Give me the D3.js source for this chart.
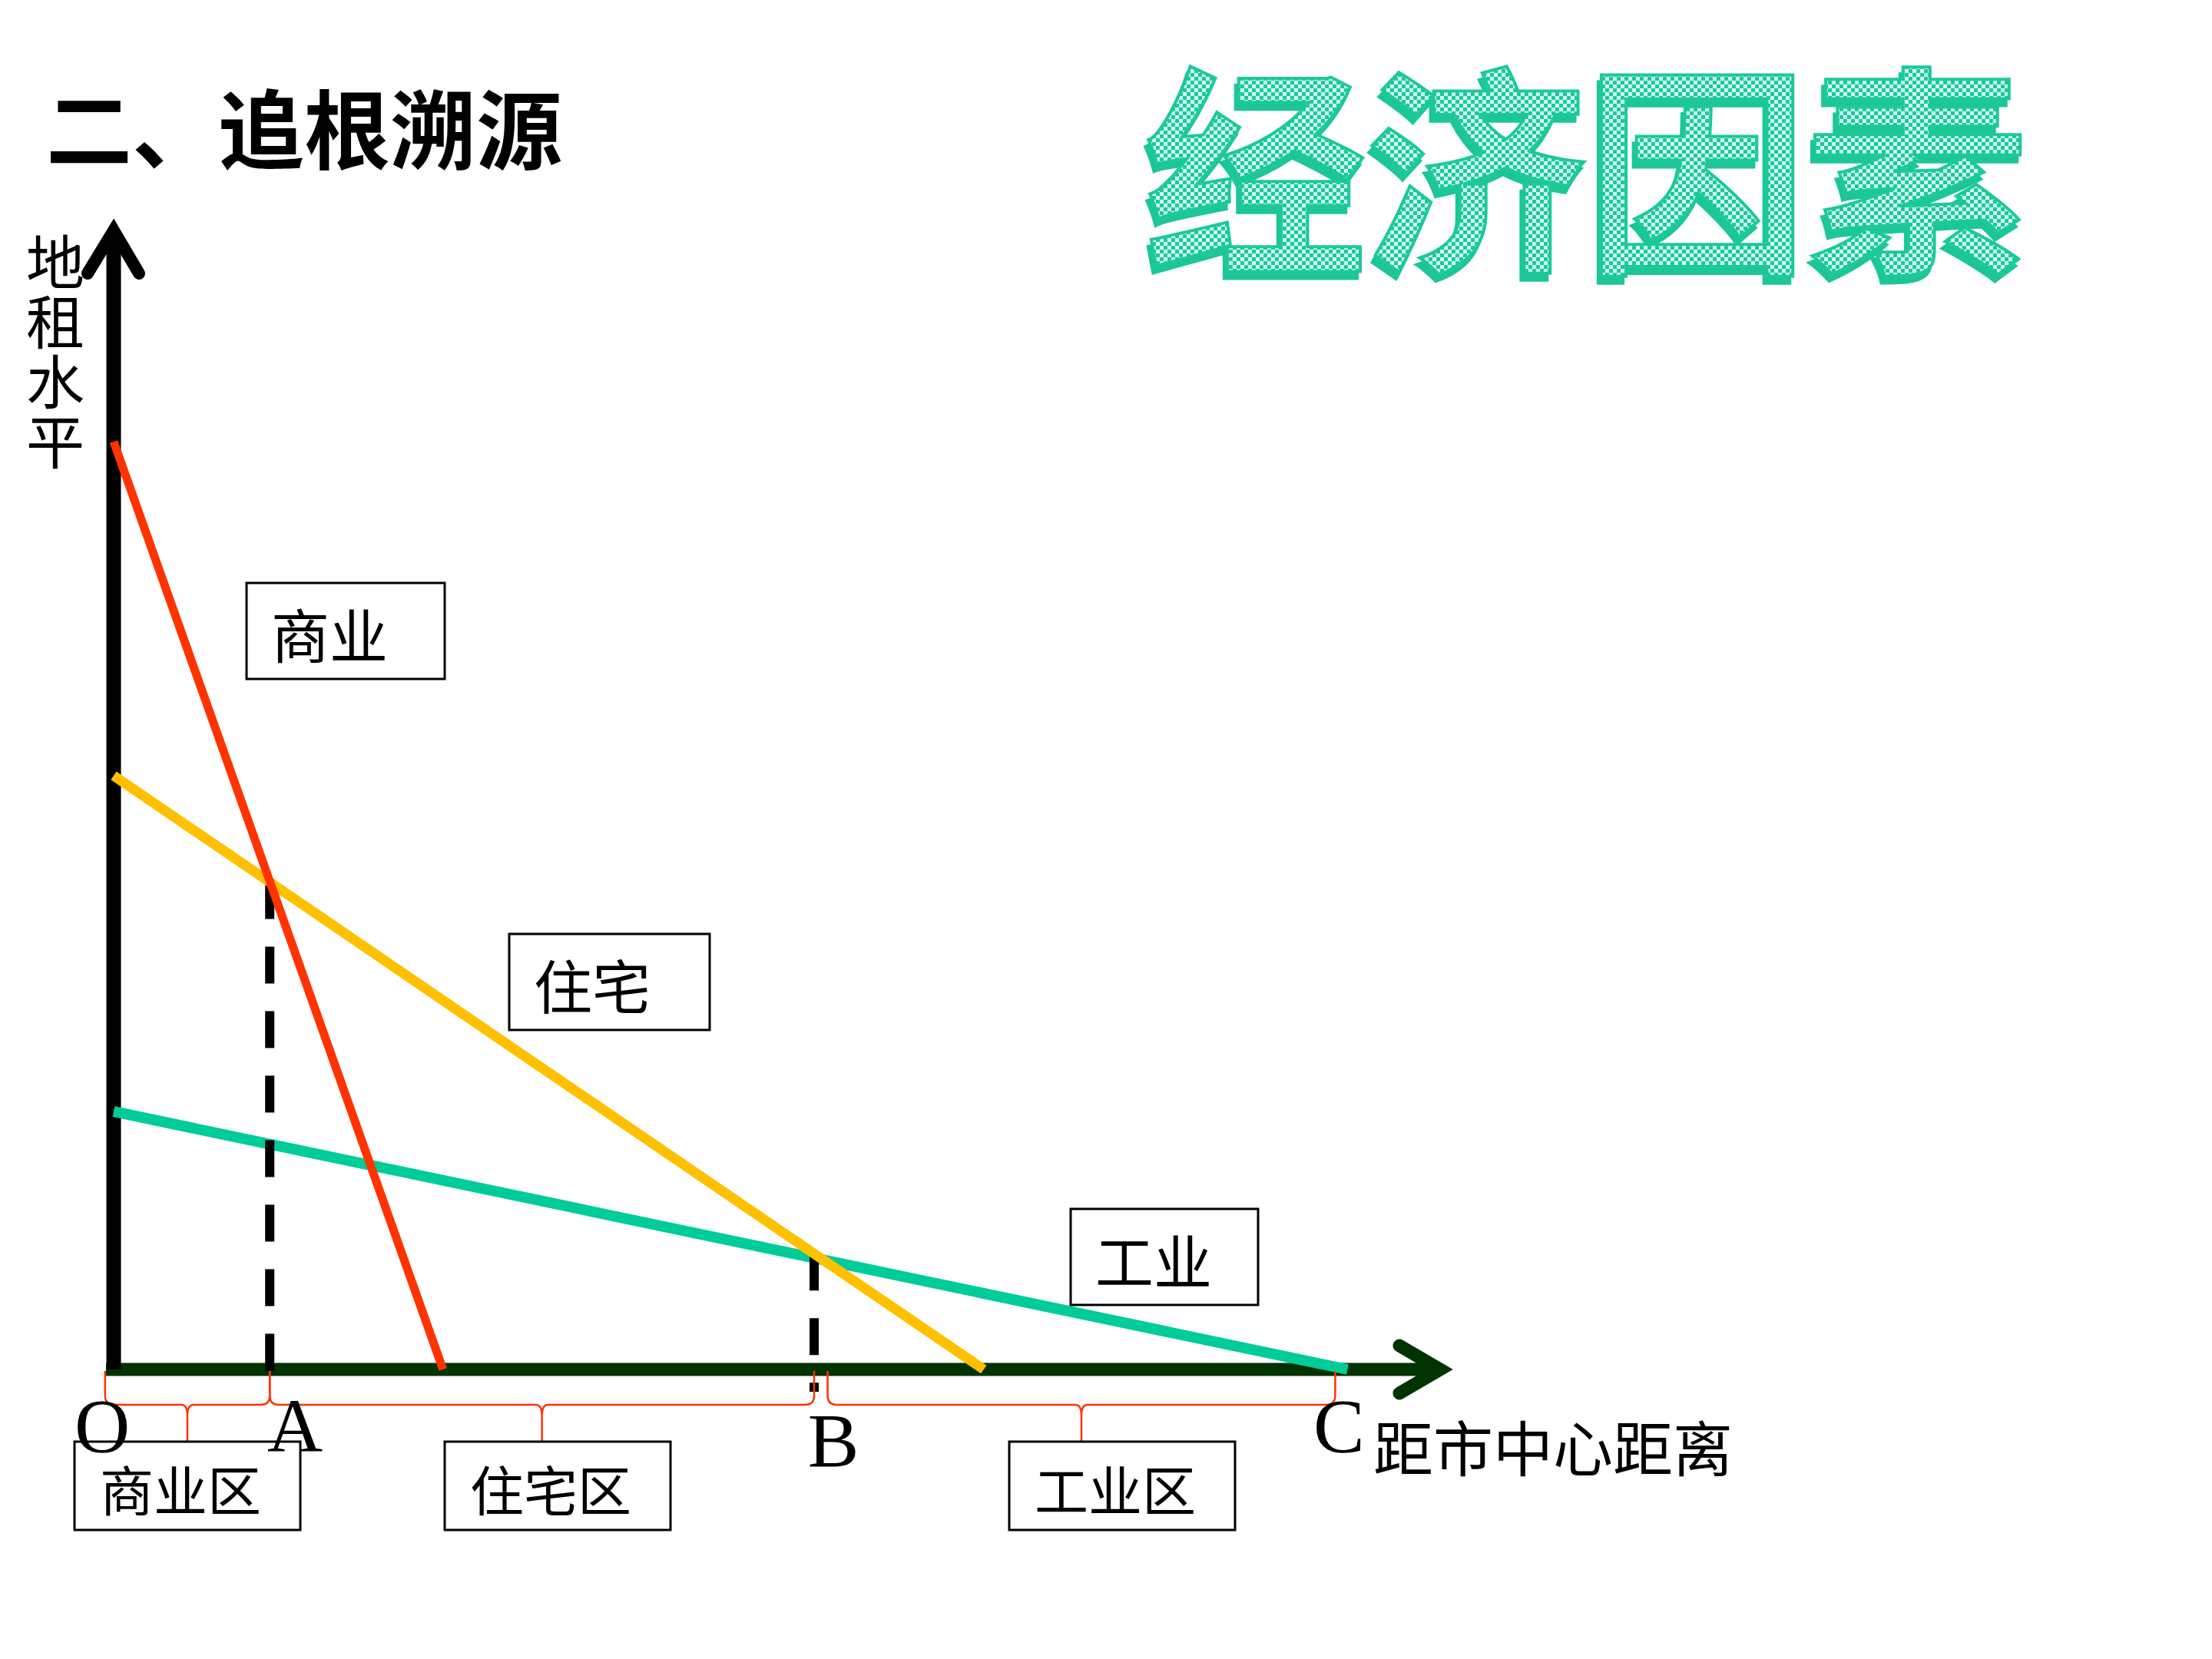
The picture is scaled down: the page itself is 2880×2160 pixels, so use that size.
<!DOCTYPE html>
<html>
<head>
<meta charset="utf-8">
<script src="https://cdn.jsdelivr.net/npm/d3@7"></script>
<style>
  html, body { margin: 0; padding: 0; background: #fff; }
  svg { display: block; }
</style>
</head>
<body>
<div id="chart"></div>
<script>
// bid-rent curves (rent level at the centre, distance where rent falls to 0)
const curveNames = ["商业", "住宅", "工业"];
const rentAtCentre = [100, 64, 27.8];
const zeroDistance = [26.8, 70.8, 100.4];

// points on the distance axis
const pointNames = ["O", "A", "B", "C"];
const pointDistance = [0, 12.7, 57.0, 99.4];

// zones and the braces under the axis
const zoneNames = ["商业区", "住宅区", "工业区"];
const braceStart = [-0.7, 12.7, 58.1];
const braceEnd = [12.7, 57.0, 99.4];

const titleText = "二、追根溯源";
const bigText = "经济因素";
const yLabel = "地租水平";
const xLabel = "距市中心距离";

const W = 2880, H = 2160;
const cjk = "'Noto Sans CJK SC', 'Noto Sans', sans-serif";
const serif = "'Liberation Serif', 'DejaVu Serif', serif";
const curveColors = ["#ff3300", "#ffc000", "#00cc99"];
const curveWidths = [11, 13, 14];
const axisGreen = "#003300";

const svg = d3.select("#chart").append("svg")
    .attr("width", W)
    .attr("height", H)
    .style("background", "#fff");

const x = d3.scaleLinear().domain([0, 100]).range([148, 1748]);
const y = d3.scaleLinear().domain([0, 100]).range([1783, 575]);

// checker pattern + extrusion filter for the word art
const defs = svg.append("defs");
const pat = defs.append("pattern")
    .attr("id", "checks")
    .attr("patternUnits", "userSpaceOnUse")
    .attr("width", 10).attr("height", 10);
pat.append("rect").attr("width", 10).attr("height", 10).attr("fill", "#1ec99a");
pat.append("rect").attr("width", 5).attr("height", 5).attr("fill", "#d2fff2");
pat.append("rect").attr("x", 5).attr("y", 5).attr("width", 5).attr("height", 5).attr("fill", "#d2fff2");

const ext = defs.append("filter").attr("id", "extrude")
    .attr("x", "-5%").attr("y", "-10%").attr("width", "110%").attr("height", "125%");
ext.append("feOffset").attr("in", "SourceAlpha").attr("dx", -4).attr("dy", 9).attr("result", "off");
ext.append("feFlood").attr("flood-color", "#1cc697").attr("result", "col");
ext.append("feComposite").attr("in", "col").attr("in2", "off").attr("operator", "in").attr("result", "shadow");
const merge = ext.append("feMerge");
merge.append("feMergeNode").attr("in", "shadow");
merge.append("feMergeNode").attr("in", "SourceGraphic");

// title
svg.append("text")
    .attr("x", 60).attr("y", 212)
    .style("font-family", cjk)
    .style("font-weight", 700)
    .style("font-size", "112px")
    .attr("fill", "#000")
    .text(titleText);

// word art "经济因素"
svg.append("text")
    .attr("x", 1490).attr("y", 334)
    .attr("filter", "url(#extrude)")
    .style("font-family", cjk)
    .style("font-weight", 700)
    .style("font-size", "290px")
    .style("letter-spacing", "-3px")
    .attr("fill", "url(#checks)")
    .attr("stroke", "#1ec99a")
    .attr("stroke-width", 4)
    .text(bigText);

// vertical y label
svg.append("text")
    .attr("x", 72).attr("y", 303)
    .style("writing-mode", "vertical-rl")
    .style("text-orientation", "upright")
    .style("letter-spacing", "2px")
    .style("font-family", cjk)
    .style("font-size", "76px")
    .text(yLabel);

// x axis with open arrow
svg.append("line")
    .attr("x1", 138).attr("x2", 1876)
    .attr("y1", y(0)).attr("y2", y(0))
    .attr("stroke", axisGreen).attr("stroke-width", 17);
svg.append("path")
    .attr("d", d3.line()([[1822, y(0) - 31], [1875, y(0)], [1822, y(0) + 31]]))
    .attr("fill", "none")
    .attr("stroke", axisGreen).attr("stroke-width", 17)
    .attr("stroke-linecap", "round").attr("stroke-linejoin", "miter");

// y axis with open arrow
svg.append("line")
    .attr("x1", x(0)).attr("x2", x(0))
    .attr("y1", y(0)).attr("y2", 302)
    .attr("stroke", "#000").attr("stroke-width", 19);
svg.append("path")
    .attr("d", d3.line()([[x(0) - 34, 356], [x(0), 300], [x(0) + 33, 356]]))
    .attr("fill", "none")
    .attr("stroke", "#000").attr("stroke-width", 16)
    .attr("stroke-linecap", "round").attr("stroke-linejoin", "miter");

const curves = curveNames.map((name, i) => ({
    name: name,
    pts: [[0, rentAtCentre[i]], [zeroDistance[i], 0]],
    color: curveColors[i],
    width: curveWidths[i]
}));
const rentAt = (i, dist) => rentAtCentre[i] * (1 - dist / zeroDistance[i]);

const line = d3.line().x(d => x(d[0])).y(d => y(d[1]));

// industrial curve sits under the dashed guides
svg.append("path")
    .datum(curves[2].pts)
    .attr("d", line)
    .attr("fill", "none")
    .attr("stroke", curves[2].color)
    .attr("stroke-width", curves[2].width);

// dashed guides at A and B, from the residential curve down to the axis
svg.append("g").selectAll("line")
    .data([1, 2])
    .enter().append("line")
    .attr("x1", i => x(pointDistance[i]))
    .attr("x2", i => x(pointDistance[i]))
    .attr("y1", i => y(rentAt(1, pointDistance[i])))
    .attr("y2", y(-2.4))
    .attr("stroke", "#000")
    .attr("stroke-width", 12)
    .attr("stroke-dasharray", "48,36");

// residential and commercial curves
svg.append("g").selectAll("path")
    .data([curves[1], curves[0]])
    .enter().append("path")
    .attr("d", d => line(d.pts))
    .attr("fill", "none")
    .attr("stroke", d => d.color)
    .attr("stroke-width", d => d.width);

// curve label boxes
const curveBoxes = [
    {x: 321, y: 759, w: 258, h: 125},
    {x: 663, y: 1216, w: 261, h: 125},
    {x: 1394, y: 1574, w: 244, h: 125}
];
const cl = svg.append("g").selectAll("g")
    .data(curveNames)
    .enter().append("g");
cl.append("rect")
    .attr("x", (d, i) => curveBoxes[i].x)
    .attr("y", (d, i) => curveBoxes[i].y)
    .attr("width", (d, i) => curveBoxes[i].w)
    .attr("height", (d, i) => curveBoxes[i].h)
    .attr("fill", "#fff")
    .attr("stroke", "#000").attr("stroke-width", 3);
cl.append("text")
    .attr("x", (d, i) => curveBoxes[i].x + 32)
    .attr("y", (d, i) => curveBoxes[i].y + curveBoxes[i].h / 2 + 2)
    .attr("dominant-baseline", "central")
    .style("font-family", cjk)
    .style("font-size", "76px")
    .text(d => d);

// braces under the axis
const yTop = 1785, yMid = 1829, yBot = 1877;
function brace(a, b) {
    const m = (a + b) / 2;
    const p = d3.path();
    p.moveTo(a, yTop);
    p.lineTo(a, yMid - 12);
    p.quadraticCurveTo(a, yMid, a + 12, yMid);
    p.lineTo(m - 8, yMid);
    p.quadraticCurveTo(m, yMid, m, yMid + 14);
    p.lineTo(m, yBot);
    p.moveTo(m, yMid + 14);
    p.quadraticCurveTo(m, yMid, m + 8, yMid);
    p.lineTo(b - 12, yMid);
    p.quadraticCurveTo(b, yMid, b, yMid - 12);
    p.lineTo(b, yTop);
    return p.toString();
}
svg.append("g").selectAll("path")
    .data(zoneNames)
    .enter().append("path")
    .attr("d", (d, i) => brace(x(braceStart[i]), x(braceEnd[i])))
    .attr("fill", "none")
    .attr("stroke", "#ff3300")
    .attr("stroke-width", 2.5);

// zone boxes
const zoneBoxLeft = [97, 579, 1314];
const zb = svg.append("g").selectAll("g")
    .data(zoneNames)
    .enter().append("g");
zb.append("rect")
    .attr("x", (d, i) => zoneBoxLeft[i])
    .attr("y", 1877)
    .attr("width", 294)
    .attr("height", 115)
    .attr("fill", "#fff")
    .attr("stroke", "#000").attr("stroke-width", 3);
zb.append("text")
    .attr("x", (d, i) => zoneBoxLeft[i] + 33)
    .attr("y", 1937)
    .attr("dominant-baseline", "central")
    .style("font-family", cjk)
    .style("font-size", "70px")
    .text(d => d);

// point letters
const letterDx = [-15, 33, 25, 5];
const letterBase = [1890, 1890, 1909, 1890];
svg.append("g").selectAll("text")
    .data(pointNames)
    .enter().append("text")
    .attr("x", (d, i) => x(pointDistance[i]) + letterDx[i])
    .attr("y", (d, i) => letterBase[i])
    .attr("text-anchor", "middle")
    .style("font-family", serif)
    .style("font-size", "100px")
    .text(d => d);

// x label
svg.append("text")
    .attr("x", 1788).attr("y", 1916)
    .style("font-family", cjk)
    .style("font-size", "78px")
    .text(xLabel);
</script>
</body>
</html>
